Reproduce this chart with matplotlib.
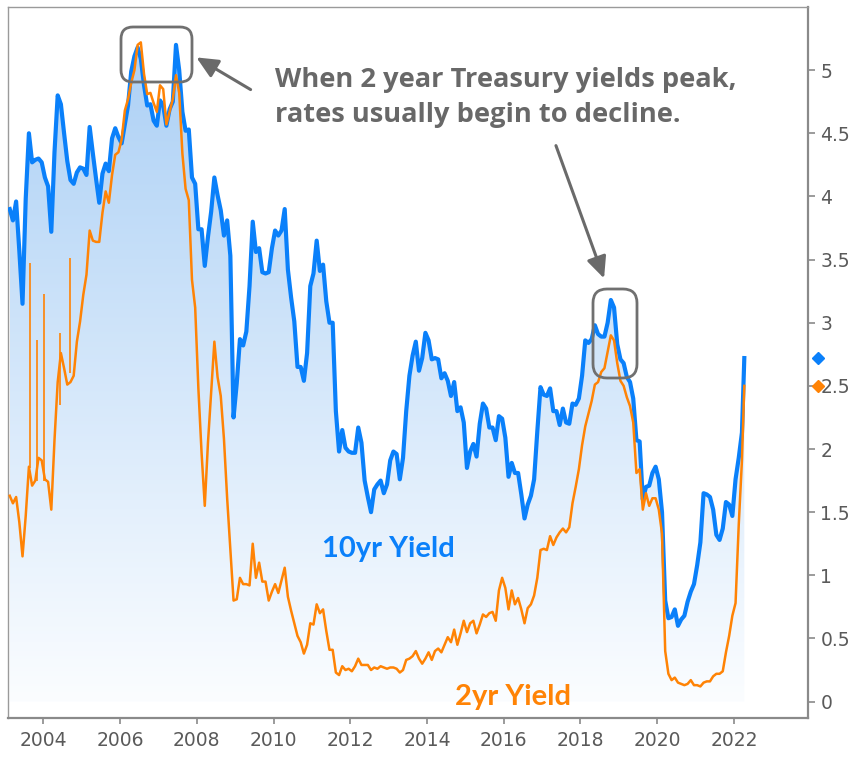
import numpy as np
import matplotlib
matplotlib.use("Agg")
import matplotlib.pyplot as plt
from matplotlib.colors import LinearSegmentedColormap
from matplotlib.patches import FancyBboxPatch, FancyArrowPatch, PathPatch
from matplotlib.path import Path
from matplotlib.transforms import Affine2D, blended_transform_factory

# ---------------- data (monthly, Feb 2003 .. Mar 2022, then last obs) ----------------
start_year = 2003
start_month = 2
yield_10yr = [
    3.90, 3.81, 3.96, 3.57, 3.15, 3.98, 4.50, 4.27, 4.29, 4.30, 4.27,
    4.15, 4.08, 3.72, 4.35, 4.80, 4.73, 4.50, 4.28, 4.13, 4.10, 4.19, 4.23,
    4.22, 4.17, 4.55, 4.34, 4.14, 3.95, 4.18, 4.26, 4.20, 4.46, 4.54, 4.47,
    4.42, 4.57, 4.72, 4.99, 5.11, 5.18, 5.09, 4.88, 4.72, 4.73, 4.60, 4.56,
    4.76, 4.72, 4.56, 4.69, 4.75, 5.20, 5.00, 4.67, 4.52, 4.53, 4.15, 4.10,
    3.74, 3.74, 3.45, 3.68, 3.88, 4.15, 4.01, 3.89, 3.69, 3.81, 3.53, 2.25,
    2.52, 2.87, 2.82, 2.93, 3.29, 3.80, 3.56, 3.59, 3.40, 3.39, 3.40, 3.59,
    3.73, 3.69, 3.73, 3.90, 3.42, 3.20, 3.01, 2.65, 2.65, 2.54, 2.76, 3.29,
    3.39, 3.65, 3.41, 3.46, 3.17, 3.00, 3.00, 2.30, 1.98, 2.15, 2.01, 1.98,
    1.97, 1.97, 2.17, 2.05, 1.75, 1.62, 1.50, 1.68, 1.72, 1.75, 1.65, 1.72,
    1.91, 1.98, 1.96, 1.76, 1.93, 2.30, 2.58, 2.74, 2.85, 2.62, 2.72, 2.92,
    2.86, 2.71, 2.72, 2.71, 2.56, 2.60, 2.54, 2.42, 2.53, 2.30, 2.33, 2.21,
    1.85, 1.98, 2.04, 1.94, 2.20, 2.36, 2.32, 2.17, 2.17, 2.07, 2.26, 2.24,
    2.09, 1.78, 1.89, 1.81, 1.81, 1.64, 1.45, 1.56, 1.63, 1.76, 2.14, 2.49,
    2.43, 2.42, 2.48, 2.30, 2.30, 2.19, 2.32, 2.21, 2.20, 2.36, 2.35, 2.40,
    2.58, 2.86, 2.84, 2.87, 2.98, 2.91, 2.89, 2.89, 3.00, 3.18, 3.12, 2.83,
    2.71, 2.68, 2.57, 2.53, 2.40, 2.07, 2.06, 1.60, 1.70, 1.71, 1.81, 1.86,
    1.76, 1.50, 0.80, 0.66, 0.67, 0.73, 0.60, 0.65, 0.68, 0.79, 0.87, 0.93,
    1.08, 1.26, 1.65, 1.64, 1.62, 1.52, 1.32, 1.28, 1.37, 1.58, 1.56, 1.47,
    1.76, 1.93, 2.13,
]
yield_2yr = [
    1.63, 1.57, 1.62, 1.42, 1.15, 1.47, 1.86, 1.71, 1.75, 1.93, 1.91,
    1.76, 1.74, 1.52, 2.07, 2.53, 2.76, 2.64, 2.51, 2.53, 2.58, 2.85, 3.01,
    3.22, 3.38, 3.73, 3.65, 3.64, 3.64, 3.87, 4.04, 3.95, 4.17, 4.33, 4.35,
    4.45, 4.68, 4.77, 4.90, 5.00, 5.20, 5.22, 4.97, 4.81, 4.82, 4.74, 4.67,
    4.88, 4.85, 4.57, 4.67, 4.77, 4.96, 4.82, 4.34, 4.06, 3.97, 3.34, 3.12,
    2.48, 1.97, 1.55, 2.05, 2.45, 2.85, 2.57, 2.42, 2.08, 1.61, 1.21, 0.80,
    0.81, 0.98, 0.93, 0.93, 0.92, 1.25, 0.98, 1.10, 0.95, 0.95, 0.80, 0.87,
    0.93, 0.86, 0.96, 1.06, 0.83, 0.72, 0.62, 0.52, 0.47, 0.38, 0.45, 0.62,
    0.61, 0.77, 0.70, 0.73, 0.56, 0.41, 0.41, 0.23, 0.21, 0.28, 0.25, 0.26,
    0.24, 0.28, 0.34, 0.29, 0.29, 0.29, 0.25, 0.27, 0.26, 0.28, 0.27, 0.26,
    0.27, 0.27, 0.26, 0.23, 0.25, 0.33, 0.34, 0.36, 0.40, 0.34, 0.30, 0.34,
    0.39, 0.33, 0.40, 0.42, 0.39, 0.45, 0.51, 0.47, 0.57, 0.45, 0.54, 0.64,
    0.55, 0.62, 0.64, 0.54, 0.61, 0.69, 0.67, 0.70, 0.71, 0.64, 0.88, 0.98,
    0.90, 0.73, 0.88, 0.77, 0.82, 0.73, 0.62, 0.74, 0.77, 0.84, 0.98, 1.20,
    1.21, 1.20, 1.31, 1.24, 1.30, 1.34, 1.37, 1.34, 1.38, 1.57, 1.70, 1.84,
    2.03, 2.18, 2.28, 2.38, 2.51, 2.53, 2.61, 2.64, 2.77, 2.90, 2.86, 2.68,
    2.54, 2.50, 2.41, 2.34, 2.21, 1.81, 1.84, 1.52, 1.65, 1.55, 1.61, 1.61,
    1.52, 1.33, 0.40, 0.22, 0.17, 0.19, 0.15, 0.14, 0.13, 0.14, 0.17, 0.13,
    0.13, 0.12, 0.15, 0.16, 0.16, 0.20, 0.22, 0.22, 0.24, 0.39, 0.52, 0.68,
    0.78, 1.40, 1.91,
]
# last observation (early April 2022)
last_date = 2022.27
last_10yr = 2.72
last_2yr = 2.50
# isolated one-day spikes visible in the 2yr series (date, from, to)
spike_dates_2yr = [2003.66, 2003.84, 2004.01, 2004.44, 2004.70]
spike_base_2yr = [1.85, 1.75, 1.75, 2.35, 2.60]
spike_values_2yr = [3.47, 2.86, 3.23, 2.92, 3.51]

year_ticks = list(range(2004, 2023, 2))
yield_ticks = [0, 0.5, 1, 1.5, 2, 2.5, 3, 3.5, 4, 4.5, 5]
yield_tick_labels = ["0", "0.5", "1", "1.5", "2", "2.5", "3", "3.5", "4", "4.5", "5"]

# ---------------- build series ----------------
n = len(yield_10yr)
months = np.arange(n)
dates = start_year + (start_month - 1 + months + 0.5) / 12.0
x10 = np.append(dates, last_date)
y10 = np.append(np.array(yield_10yr), last_10yr)
x2 = np.append(dates, last_date)
y2 = np.append(np.array(yield_2yr), last_2yr)

# ---------------- figure ----------------
W, H = 858, 757
fig = plt.figure(figsize=(W / 100, H / 100), dpi=100)
ax = fig.add_axes([8 / W, 1 - 718 / H, 800 / W, 711 / H])
px = Affine2D().scale(0.01, -0.01).translate(0, H / 100) + fig.dpi_scale_trans

BLUE = "#0a80fa"
ORANGE = "#ff8305"
GRAY_TXT = "#686868"

ax.set_xlim(2003.08, 2023.93)
ax.set_ylim(-0.13, 5.5)

# gradient fill under 10yr
verts = np.concatenate([np.column_stack([x10, y10]),
                        np.column_stack([x10[::-1], np.zeros_like(x10)])])
clip = PathPatch(Path(verts), facecolor="none", edgecolor="none",
                 transform=ax.transData)
ax.add_patch(clip)
cmap = LinearSegmentedColormap.from_list("g", ["#fbfdff", "#a8cef5"])
grad = np.linspace(0, 1, 256).reshape(-1, 1)
img = ax.imshow(grad, extent=[x10[0], x10[-1], 0, 5.5], origin="lower",
                aspect="auto", cmap=cmap, zorder=1, interpolation="bilinear")
img.set_clip_path(clip)

ax.plot(x10, y10, color=BLUE, lw=3.0, zorder=3)
ax.plot(x2, y2, color=ORANGE, lw=1.8, zorder=4)
ax.vlines(spike_dates_2yr, spike_base_2yr, spike_values_2yr, color=ORANGE,
          lw=1.2, zorder=4)

# axes styling
ax.yaxis.tick_right()
ax.set_xticks(year_ticks)
ax.set_xticklabels([str(y) for y in year_ticks])
ax.set_yticks(yield_ticks)
ax.set_yticklabels(yield_tick_labels)
ax.tick_params(axis="x", direction="out", length=4, width=1.2, color="#8a8a8a",
               labelsize=13.5, labelcolor="#5a5a5a", pad=5)
ax.tick_params(axis="y", direction="out", length=5, width=1.2, color="#8a8a8a",
               labelsize=13.5, labelcolor="#5a5a5a", pad=4)
for side in ["left", "top"]:
    ax.spines[side].set_color("#9a9a9a")
    ax.spines[side].set_linewidth(1.0)
for side in ["right", "bottom"]:
    ax.spines[side].set_color("#8a8a8a")
    ax.spines[side].set_linewidth(1.6)

# last-value markers at the right axis
tr = blended_transform_factory(ax.transAxes, ax.transData)
ax.plot([1.0125], [last_10yr], marker="D", ms=6.5, color=BLUE, transform=tr,
        clip_on=False, zorder=5)
ax.plot([1.0125], [last_2yr], marker="D", ms=6.5, color=ORANGE, transform=tr,
        clip_on=False, zorder=5)

# annotations
afont = dict(family=["Open Sans", "DejaVu Sans"], weight="bold")
lfont = dict(family=["Lato", "DejaVu Sans"], weight="bold")
fig.text(275, 87.3, "When 2 year Treasury yields peak,", transform=px,
         fontsize=19.6, color=GRAY_TXT, va="baseline", ha="left", **afont)
fig.text(275, 121.7, "rates usually begin to decline.", transform=px,
         fontsize=19.6, color=GRAY_TXT, va="baseline", ha="left", **afont)
fig.text(322, 556.5, "10yr Yield", transform=px, fontsize=21, color=BLUE,
         va="baseline", ha="left", **lfont)
fig.text(455, 705, "2yr Yield", transform=px, fontsize=21, color=ORANGE,
         va="baseline", ha="left", **lfont)

box_kw = dict(transform=px, facecolor="none", edgecolor="#707070", lw=2.0,
              zorder=10)
fig.patches.append(FancyBboxPatch((121, 27), 71, 55,
                                  boxstyle="round,pad=0,rounding_size=12", **box_kw))
fig.patches.append(FancyBboxPatch((593, 289), 44, 89,
                                  boxstyle="round,pad=0,rounding_size=14", **box_kw))
arr_kw = dict(transform=px, arrowstyle="-|>,head_length=1.3,head_width=0.6",
              mutation_scale=10, color="#6a6a6a", lw=2.2, zorder=10)
fig.patches.append(FancyArrowPatch((253, 91), (194, 56), **arr_kw))
fig.patches.append(FancyArrowPatch((555, 143), (605, 281), **arr_kw))

fig.savefig("out.png", dpi=100)
